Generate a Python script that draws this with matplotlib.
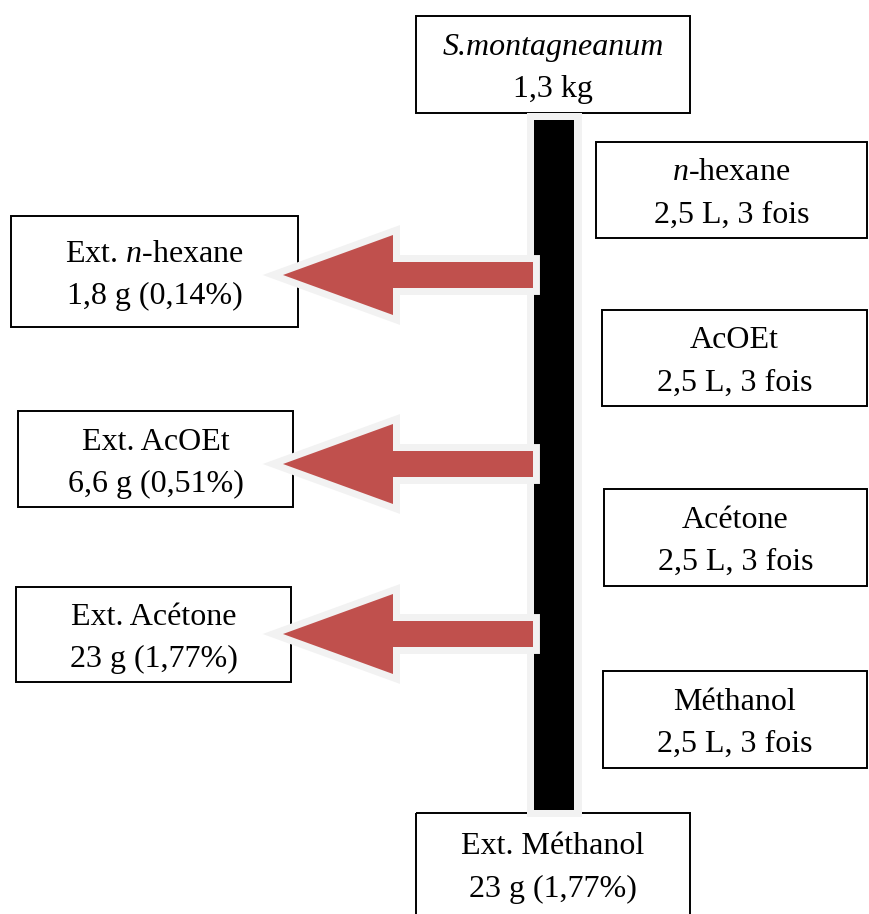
import matplotlib
matplotlib.use("Agg")
import matplotlib.pyplot as plt
from matplotlib.patches import Rectangle, Polygon

plt.rcParams["font.family"] = ["Liberation Serif", "DejaVu Serif"]
plt.rcParams["mathtext.fontset"] = "custom"
plt.rcParams["mathtext.rm"] = "Liberation Serif"
plt.rcParams["mathtext.it"] = "Liberation Serif:italic"

# texts of the flowchart
start_label = ["S.montagneanum", "1,3 kg"]
solvents = ["$\\mathit{n}$-hexane", "AcOEt", "Acétone", "Méthanol"]
solvent_volume = ["2,5 L, 3 fois"] * 4
extracts = ["Ext. $\\mathit{n}$-hexane", "Ext. AcOEt", "Ext. Acétone"]
extract_mass = ["1,8 g (0,14%)", "6,6 g (0,51%)", "23 g (1,77%)"]
final_label = ["Ext. Méthanol", "23 g (1,77%)"]

# layout in pixels (x0, y0, x1, y1), y going down
W, H = 869, 914
start_box = (416, 16, 690, 113)
solvent_boxes = [(596, 142, 867, 238), (602, 310, 867, 406),
                 (604, 489, 867, 586), (603, 671, 867, 768)]
extract_boxes = [(11, 216, 298, 327), (18, 411, 293, 507), (16, 587, 291, 682)]
final_box = (416, 813, 690, 960)
arrow_y = [275, 464, 634]

RED = "#c0504d"
GREY = "#f2f2f2"
FS = 23
GAP = 42


fig = plt.figure(figsize=(W / 100, H / 100), dpi=100)
ax = fig.add_axes([0, 0, 1, 1])
ax.set_xlim(0, W)
ax.set_ylim(H, 0)
ax.axis("off")


def box(b, lines, clip=False, italic_first=False):
    x0, y0, x1, y1 = b
    ax.add_patch(Rectangle((x0, y0), x1 - x0, y1 - y0, fill=False,
                           edgecolor="black", linewidth=1.4, zorder=2))
    xc = (x0 + x1) / 2
    if clip:
        yc = y0 + 51
    else:
        yc = (y0 + y1) / 2
    yc += 4
    ax.text(xc, yc - GAP / 2, lines[0], fontsize=FS, ha="center", va="center",
            fontstyle="italic" if italic_first else "normal", zorder=5)
    ax.text(xc, yc + GAP / 2, lines[1], fontsize=FS, ha="center", va="center", zorder=5)


box(start_box, start_label, italic_first=True)
for b, s, v in zip(solvent_boxes, solvents, solvent_volume):
    box(b, [s, v])
for b, e, m in zip(extract_boxes, extracts, extract_mass):
    box(b, [e, m])
box(final_box, final_label, clip=True)

# central column
ax.add_patch(Rectangle((527, 113), 55, 704, facecolor=GREY, edgecolor="none", zorder=3))
ax.add_patch(Rectangle((534, 120), 40, 690, facecolor="black", edgecolor="none", zorder=3))

# arrows to the extracts
for yc in arrow_y:
    pts = [(283, yc), (393, yc - 40), (393, yc - 13), (533, yc - 13),
           (533, yc + 13), (393, yc + 13), (393, yc + 40)]
    ax.add_patch(Polygon(pts, closed=True, facecolor=GREY, edgecolor=GREY,
                         linewidth=10, joinstyle="miter", zorder=4))
    ax.add_patch(Polygon(pts, closed=True, facecolor=RED, edgecolor="none", zorder=4))

fig.savefig("out.png", dpi=100)
